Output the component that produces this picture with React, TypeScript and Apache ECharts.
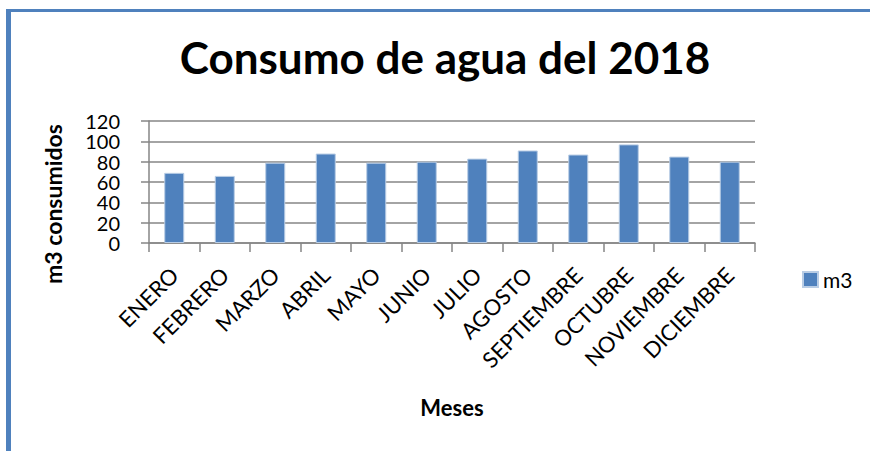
import React, { useEffect, useRef } from "react";
import * as echarts from "echarts";

const months = [
  "ENERO", "FEBRERO", "MARZO", "ABRIL", "MAYO", "JUNIO",
  "JULIO", "AGOSTO", "SEPTIEMBRE", "OCTUBRE", "NOVIEMBRE", "DICIEMBRE",
];
const m3Values = [69, 66, 79, 88, 79, 80, 83, 91, 87, 97, 85, 80];
const yMin = 0;
const yMax = 120;
const yStep = 20;

const titleText = "Consumo de agua del 2018";
const yTitle = "m3 consumidos";
const xTitle = "Meses";
const seriesName = "m3";

const FONT = "Lato, 'Open Sans', sans-serif";
const GRAY = "#868686";
const BLUE = "#4f81bd";

export default function App() {
  const ref = useRef<HTMLDivElement>(null);

  useEffect(() => {
    if (!ref.current) return;
    const chart = echarts.init(ref.current, undefined, { renderer: "svg" });
    chart.setOption({
      animation: false,
      backgroundColor: "#ffffff",
      textStyle: { fontFamily: FONT },
      graphic: [
        { type: "rect", shape: { x: 6, y: 9, width: 5, height: 442 }, style: { fill: BLUE } },
        { type: "rect", shape: { x: 6, y: 9, width: 864, height: 3 }, style: { fill: BLUE } },
        {
          type: "text",
          x: 445,
          y: 57,
          style: {
            text: titleText,
            font: `bold 44px ${FONT}`,
            fill: "#000",
            textAlign: "center",
            textVerticalAlign: "middle",
          },
        },
        {
          type: "text",
          x: 53,
          y: 204,
          rotation: Math.PI / 2,
          style: {
            text: yTitle,
            font: `bold 23px ${FONT}`,
            fill: "#000",
            textAlign: "center",
            textVerticalAlign: "middle",
          },
        },
        {
          type: "text",
          x: 452,
          y: 407,
          style: {
            text: xTitle,
            font: `bold 22px ${FONT}`,
            fill: "#000",
            textAlign: "center",
            textVerticalAlign: "middle",
          },
        },
      ],
      legend: {
        left: 797,
        top: 264,
        icon: "rect",
        itemWidth: 15,
        itemHeight: 15,
        textStyle: { fontSize: 21, color: "#000", fontFamily: FONT },
        data: [seriesName],
      },
      grid: { left: 149, right: 115, top: 121, bottom: 208 },
      xAxis: {
        type: "category",
        data: months,
        boundaryGap: true,
        axisLine: { lineStyle: { color: GRAY, width: 1.5 } },
        axisTick: { show: true, length: 9, lineStyle: { color: GRAY, width: 1.5 } },
        axisLabel: {
          rotate: 45,
          interval: 0,
          fontSize: 22,
          color: "#000",
          margin: 28,
          fontFamily: FONT,
        },
      },
      yAxis: {
        type: "value",
        min: yMin,
        max: yMax,
        interval: yStep,
        axisLine: { show: true, lineStyle: { color: GRAY, width: 1.5 } },
        axisTick: { show: true, length: 8, lineStyle: { color: GRAY, width: 1.5 } },
        splitLine: { show: true, lineStyle: { color: GRAY, width: 1.5 } },
        axisLabel: {
          fontSize: 20,
          lineHeight: 18,
          color: "#000",
          margin: 29,
          fontFamily: FONT,
        },
      },
      series: [
        {
          type: "bar",
          name: seriesName,
          data: m3Values,
          barWidth: 20,
          itemStyle: { color: BLUE, borderColor: "#b9cde5", borderWidth: 1 },
        },
      ],
    });
    return () => chart.dispose();
  }, []);

  return (
    <div
      ref={ref}
      style={{ position: "fixed", left: 0, top: 0, width: 870, height: 451 }}
    />
  );
}
